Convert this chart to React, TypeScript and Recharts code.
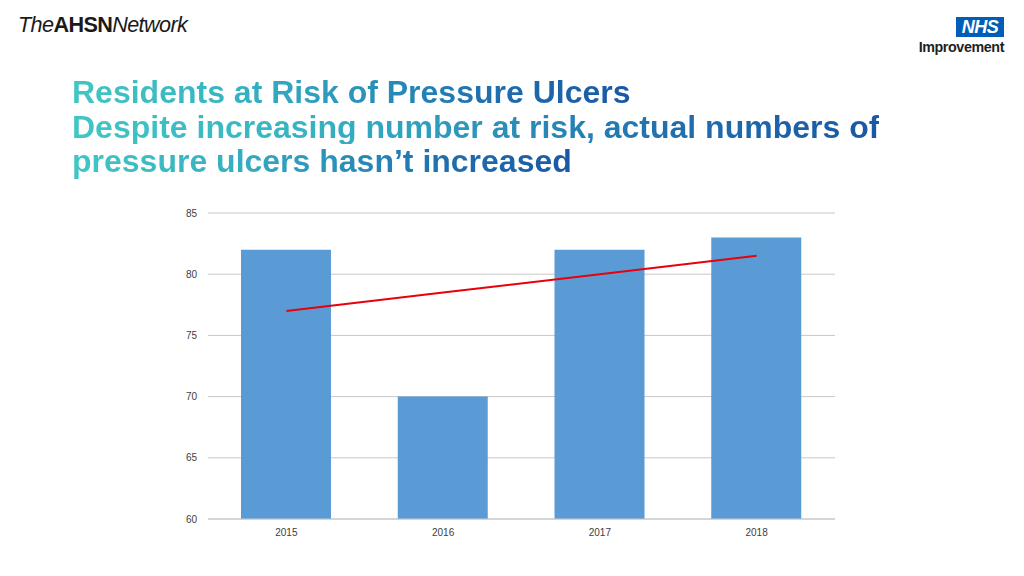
import * as React from "react"
import {
  Bar,
  CartesianGrid,
  ComposedChart,
  Line,
  XAxis,
  YAxis,
} from "recharts"

// values
const years = ["2015", "2016", "2017", "2018"]
const residentsAtRisk = [82, 70, 82, 83]
const trendValues = [77, 78.5, 80, 81.5]
const yTicks = [60, 65, 70, 75, 80, 85]

const titleLines = [
  "Residents at Risk of Pressure Ulcers",
  "Despite increasing number at risk, actual numbers of",
  "pressure ulcers hasn\u2019t increased",
]

const data = years.map((year, i) => ({
  year,
  value: residentsAtRisk[i],
  trend: trendValues[i],
}))

const font = "'Liberation Sans', Arial, sans-serif"

// each title line carries its own teal -> blue gradient
const gradientText: React.CSSProperties = {
  display: "inline-block",
  background:
    "linear-gradient(90deg, #41c6c4 0%, #36b2c2 30%, #2a92bb 52%, #1f6eae 75%, #1a58a4 100%)",
  WebkitBackgroundClip: "text",
  backgroundClip: "text",
  color: "transparent",
}

export default function App() {
  return (
    <div
      style={{
        position: "absolute",
        left: 0,
        top: 0,
        width: 1024,
        height: 576,
        background: "#ffffff",
        fontFamily: font,
        overflow: "hidden",
      }}
    >
      {/* AHSN logo */}
      <div
        style={{
          position: "absolute",
          left: 18,
          top: 12,
          fontSize: 21.6,
          letterSpacing: -0.6,
          color: "#1a1a1a",
          whiteSpace: "nowrap",
        }}
      >
        <span style={{ fontStyle: "italic" }}>The</span>
        <span style={{ fontWeight: 700 }}>AHSN</span>
        <span style={{ fontStyle: "italic" }}>Network</span>
      </div>

      {/* NHS Improvement logo */}
      <div
        style={{
          position: "absolute",
          left: 956,
          top: 17,
          width: 48,
          height: 20,
          background: "#005eb8",
          color: "#ffffff",
          fontWeight: 700,
          fontStyle: "italic",
          fontSize: 18,
          lineHeight: "20px",
          textAlign: "center",
          letterSpacing: -0.5,
        }}
      >
        NHS
      </div>
      <div
        style={{
          position: "absolute",
          right: 20,
          top: 38.5,
          fontWeight: 700,
          fontSize: 14.3,
          letterSpacing: -0.4,
          color: "#231f20",
        }}
      >
        Improvement
      </div>

      {/* title */}
      <div
        style={{
          position: "absolute",
          left: 72,
          top: 75,
          fontWeight: 700,
          fontSize: 32,
          lineHeight: "34.5px",
          whiteSpace: "nowrap",
        }}
      >
        {titleLines.map((line) => (
          <div key={line}>
            <span style={gradientText}>{line}</span>
          </div>
        ))}
      </div>

      <div style={{ position: "absolute", left: 150, top: 200 }}>
        <ComposedChart
          width={700}
          height={350}
          data={data}
          margin={{ top: 13, right: 15, bottom: 1, left: 28 }}
        >
          <CartesianGrid vertical={false} stroke="#c8c8c8" />
          <XAxis
            dataKey="year"
            height={30}
            tickLine={false}
            tickSize={0}
            tickMargin={10}
            axisLine={{ stroke: "#c8c8c8" }}
            tick={{ fontSize: 10, fill: "#404040", fontFamily: font }}
          />
          <YAxis
            width={30}
            domain={[60, 85]}
            ticks={yTicks}
            axisLine={false}
            tickLine={false}
            tickSize={0}
            tickMargin={11}
            tick={{ fontSize: 10, fill: "#404040", fontFamily: font }}
          />
          <Bar
            dataKey="value"
            fill="#5b9bd5"
            barSize={90}
            isAnimationActive={false}
          />
          <Line
            dataKey="trend"
            stroke="#e8000b"
            strokeWidth={2}
            dot={false}
            activeDot={false}
            type="linear"
            isAnimationActive={false}
          />
        </ComposedChart>
      </div>
    </div>
  )
}
